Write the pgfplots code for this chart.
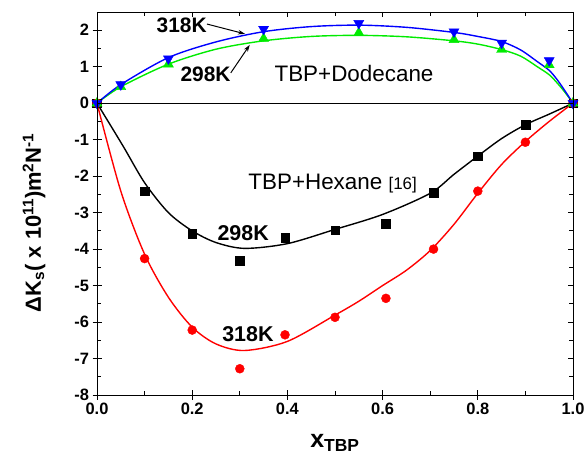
\documentclass[border=0pt]{standalone}
\usepackage{pgfplots}
\pgfplotsset{compat=1.18}
\usepackage{fontspec}
\setmainfont{Liberation Sans}
\usetikzlibrary{arrows.meta}
\definecolor{ogreen}{RGB}{0,235,0}
\definecolor{oblue}{RGB}{0,0,255}
\definecolor{ored}{RGB}{255,0,0}
\begin{document}
\begin{tikzpicture}
\begin{axis}[
  scale only axis, width=476bp, height=383bp,
  xmin=0, xmax=1, ymin=-8, ymax=2.5,
  clip=false,
  axis line style={line width=0.9pt},
  xtick={0,0.2,0.4,0.6,0.8,1},
  xticklabels={0.0,0.2,0.4,0.6,0.8,1.0},
  ytick={-8,-7,-6,-5,-4,-3,-2,-1,0,1,2},
  yticklabels={-8,-7,-6,-5,-4,-3,-2,-1,0,1,2},
  xtick pos=left, ytick pos=left,
  tick align=center,
  major tick length=9bp,
  tick style={black, line width=0.9pt},
  ticklabel style={font=\bfseries\fontsize{16.5}{18}\selectfont},
  xlabel={\textbf{x\textsubscript{TBP}}},
  xlabel style={font=\fontsize{25}{27}\selectfont, at={(axis description cs:0.5,-0.125)}, anchor=center},
  ylabel={\textbf{ΔK\textsubscript{s}( x 10\textsuperscript{11})m\textsuperscript{2}N\textsuperscript{-1}}},
  ylabel style={font=\fontsize{22}{24}\selectfont, at={(axis description cs:-0.132,0.45)}, anchor=center},
]
\coordinate (BL) at (rel axis cs:0,0);
\coordinate (TR) at (rel axis cs:1,1);
% zero line
\addplot[black, line width=0.7pt] coordinates {(0,0) (1,0)};
% fitted curves
\addplot[ored, line width=1.4pt, smooth] coordinates {
(0,0) (0.05,-2.41) (0.1,-4.14) (0.15,-5.32) (0.2,-6.14) (0.25,-6.6) (0.31,-6.78) (0.4,-6.53) (0.5,-5.81) (0.55,-5.43) (0.6,-5.0) (0.65,-4.58) (0.7,-4.04) (0.75,-3.32) (0.8,-2.47) (0.85,-1.68) (0.9,-1.05) (0.95,-0.5) (1,0)};
\addplot[black, line width=1.4pt, smooth] coordinates {
(0,0) (0.055,-1.18) (0.1,-2.18) (0.15,-3.0) (0.2,-3.5) (0.25,-3.82) (0.31,-3.98) (0.4,-3.85) (0.5,-3.46) (0.6,-3.05) (0.7,-2.47) (0.75,-1.95) (0.8,-1.45) (0.85,-0.97) (0.9,-0.59) (0.95,-0.3) (1,0)};
\addplot[ogreen, line width=1.4pt, smooth] coordinates {
(0,0) (0.05,0.45) (0.15,1.07) (0.25,1.48) (0.35,1.71) (0.45,1.83) (0.55,1.86) (0.65,1.82) (0.75,1.71) (0.8,1.62) (0.85,1.47) (0.89,1.29) (0.925,1.0) (0.95,0.78) (0.967,0.55) (0.983,0.3) (1,0)};
\addplot[oblue, line width=1.4pt, smooth] coordinates {
(0,0) (0.05,0.51) (0.15,1.25) (0.25,1.68) (0.35,1.96) (0.45,2.1) (0.55,2.14) (0.65,2.08) (0.75,1.94) (0.8,1.83) (0.85,1.69) (0.89,1.46) (0.925,1.14) (0.95,0.9) (0.967,0.64) (0.983,0.34) (1,0)};
% markers
\addplot[only marks, mark=square*, mark size=4.3bp, black] coordinates {
(0,0) (0.1,-2.41) (0.2,-3.57) (0.3,-4.32) (0.395,-3.69) (0.5,-3.48) (0.607,-3.30) (0.707,-2.45) (0.8,-1.45) (0.9,-0.59) (1,0)};
\addplot[only marks, mark=*, mark size=4.5bp, ored] coordinates {
(0,0) (0.1,-4.26) (0.2,-6.22) (0.3,-7.28) (0.395,-6.35) (0.5,-5.87) (0.607,-5.35) (0.707,-4.0) (0.8,-2.41) (0.9,-1.07) (1,0)};
\addplot[only marks, mark=triangle*, mark size=5.8bp, ogreen] coordinates {
(0,0) (0.05,0.45) (0.15,1.07) (0.35,1.77) (0.55,1.93) (0.75,1.74) (0.85,1.47) (0.95,1.05) (1,0)};
\addplot[only marks, mark=triangle*, mark size=5.8bp, oblue, mark options={rotate=180}] coordinates {
(0,0) (0.05,0.51) (0.15,1.22) (0.35,2.03) (0.55,2.19) (0.75,1.96) (0.85,1.65) (0.95,1.17) (1,0)};
% annotations
\node[font=\bfseries\fontsize{21}{22}\selectfont, inner sep=0pt] at (axis cs:0.178,2.13) {318K};
\draw[line width=1pt, -{Stealth[length=7bp,width=4.5bp]}] (axis cs:0.231,2.17) -- (axis cs:0.311,1.90);
\node[font=\bfseries\fontsize{21}{22}\selectfont, inner sep=0pt] at (axis cs:0.228,0.79) {298K};
\draw[line width=1pt, -{Stealth[length=7bp,width=4.5bp]}] (axis cs:0.281,0.83) -- (axis cs:0.321,1.60);
\node[font=\fontsize{22.5}{24}\selectfont, inner sep=0pt] at (axis cs:0.540,0.82) {TBP+Dodecane};
\node[font=\fontsize{22.5}{24}\selectfont, inner sep=0pt] at (axis cs:0.495,-2.2) {TBP+Hexane {\fontsize{17}{18}\selectfont[16]}};
\node[font=\bfseries\fontsize{21.5}{22}\selectfont, inner sep=0pt] at (axis cs:0.307,-3.55) {298K};
\node[font=\bfseries\fontsize{21.5}{22}\selectfont, inner sep=0pt] at (axis cs:0.317,-6.33) {318K};
\end{axis}
\begin{axis}[
  scale only axis, width=476bp, height=383bp,
  xmin=0, xmax=1, ymin=-8, ymax=2.5,
  axis line style={line width=0.9pt},
  xtick={0,0.2,0.4,0.6,0.8,1},
  minor xtick={0.1,0.3,0.5,0.7,0.9},
  ytick={-8,-7,-6,-5,-4,-3,-2,-1,0,1,2},
  minor ytick={-7.5,-6.5,-5.5,-4.5,-3.5,-2.5,-1.5,-0.5,0.5,1.5},
  xticklabels={}, yticklabels={},
  tick align=inside,
  major tick length=5bp, minor tick length=4bp,
  tick style={black, line width=0.9pt},
]
\end{axis}
\pgfresetboundingbox
\path ([shift={(-97bp,-62bp)}]BL) rectangle ([shift={(11bp,12bp)}]TR);
\end{tikzpicture}
\end{document}
